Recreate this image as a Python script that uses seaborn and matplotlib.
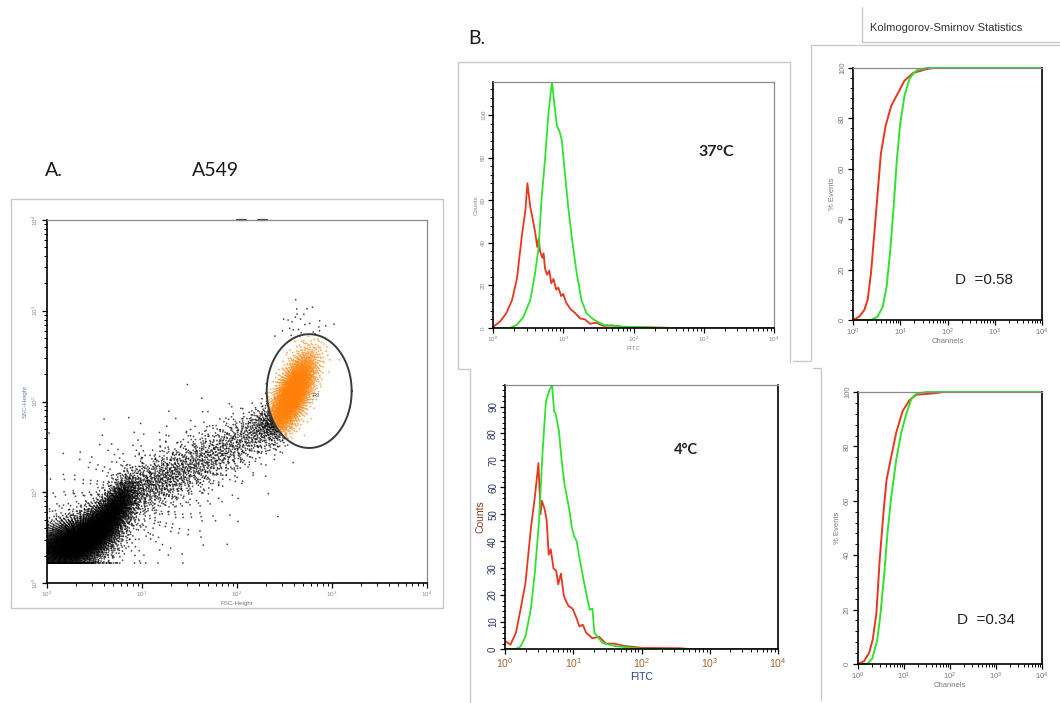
import numpy as np
import pandas as pd
import matplotlib
matplotlib.use("Agg")
import matplotlib.pyplot as plt
from matplotlib.lines import Line2D
from matplotlib.ticker import LogLocator, MultipleLocator, LogFormatterMathtext, NullFormatter
import seaborn as sns

# ---------------- data ----------------
# Panel A: FSC/SSC event populations, log10 units
pop_fsc    = [0.25, 0.55, 0.75, 1.10, 1.55, 2.00, 2.30, 0.90, 2.62, 2.59]
pop_ssc    = [0.42, 0.62, 0.88, 1.08, 1.30, 1.55, 1.75, 0.90, 2.85, 2.09]
pop_sd_fsc = [0.22, 0.17, 0.11, 0.24, 0.27, 0.22, 0.13, 0.60, 0.10, 0.12]
pop_sd_ssc = [0.15, 0.17, 0.16, 0.18, 0.18, 0.17, 0.12, 0.42, 0.12, 0.22]
pop_rho    = [0.35, 0.60, 0.60, 0.55, 0.55, 0.45, 0.40, 0.50, 0.30, 0.65]
pop_events = [4000, 2300, 900, 550, 500, 380, 280, 600, 25, 3000]
fsc_floor, ssc_floor = 0.0, 0.22

gate_center = (2.76, 2.115)   # log10 FSC, log10 SSC
gate_radii = (0.447, 0.627)
gate_name = "R3"

# Panel B: FITC histograms (log10 channel, counts)
h37_red_log = [0, .10, .19, .27, .34, .41, .46, .49, .53, .56, .60, .63, .65, .67, .70, .72, .74, .77, .80,
               .83, .86, .90, .93, .97, 1.0, 1.04, 1.10, 1.17, 1.24, 1.31, 1.38, 1.47, 1.57, 1.7, 1.86, 2.2, 2.6, 4.0]
h37_red_cnt = [0.5, 3, 7, 13, 23, 43, 55, 68, 57, 52, 45, 38, 42, 36, 33, 35, 28, 25, 27,
               21, 23, 18, 19, 15, 16, 12, 9, 7, 4.5, 4, 2, 2.5, 1, 1.2, 0.5, 0.3, 0, 0]
h37_grn_log = [0, .24, .34, .43, .53, .60, .65, .69, .74, .79, .84, .87, .91, .95, .98, 1.02, 1.07, 1.12,
               1.19, 1.26, 1.33, 1.43, 1.57, 1.86, 2.2, 2.5, 4.0]
h37_grn_cnt = [0, 0, 1.5, 5, 13, 26, 38, 60, 79, 101, 116, 106, 95, 92, 88, 74, 57, 43,
               26, 13, 7, 4, 1.5, 0.6, 0.3, 0, 0]

h4_red_log = [0, .08, .16, .23, .30, .38, .44, .49, .52, .54, .58, .61, .64, .67, .71, .75, .78, .82, .86, .89,
              .93, .99, 1.04, 1.09, 1.14, 1.19, 1.28, 1.38, 1.48, 1.6, 1.73, 2.02, 2.56, 2.7, 4.0]
h4_red_cnt = [3, 1.6, 6, 15, 24.5, 45, 57, 69, 50, 55, 52, 48, 35, 37, 30, 29, 24, 28, 20, 18,
              16, 15, 12, 8.4, 9, 6, 4, 4.5, 2, 2, 1.2, 0.4, 0.3, 0, 0]
h4_grn_log = [0, .16, .23, .30, .38, .44, .50, .55, .60, .65, .69, .72, .74, .79, .83, .87, .94, .98, 1.01,
              1.05, 1.09, 1.16, 1.24, 1.28, 1.31, 1.43, 1.63, 1.92, 2.1, 4.0]
h4_grn_cnt = [0, 0, 1, 4.7, 15, 29, 48, 73, 92, 96, 98, 88, 87.5, 81, 70, 61.5, 52, 45, 42,
              40, 34, 24.5, 14.6, 15, 6, 2.2, 1, 0.3, 0, 0]

# Kolmogorov-Smirnov cumulative curves (log10 channel, % events)
ks37_red_log = [0, .13, .24, .31, .38, .45, .52, .59, .69, .81, .95, 1.09, 1.27, 1.56, 1.7, 4.0]
ks37_red_pct = [0, 1.3, 4, 8, 18.5, 34, 50, 66, 77, 85, 90, 95, 98, 99.6, 100, 100]
ks37_grn_log = [0, .38, .52, .63, .71, .79, .86, .93, 1.0, 1.09, 1.2, 1.34, 1.56, 4.0]
ks37_grn_pct = [0, 0, 1.3, 5.3, 13, 28, 45, 64, 78, 89, 96, 99, 100, 100]
ks4_red_log = [0, .13, .24, .32, .40, .47, .55, .62, .72, .83, .97, 1.12, 1.27, 1.64, 1.86, 4.0]
ks4_red_pct = [0, 1, 4, 9, 18.6, 38, 55, 67.6, 76, 85, 93, 97, 99, 99.5, 100, 100]
ks4_grn_log = [0, .20, .31, .42, .49, .57, .64, .72, .83, .94, 1.05, 1.16, 1.27, 1.49, 4.0]
ks4_grn_pct = [0, 0, 2, 9, 18.6, 33, 48, 61, 75, 85, 92, 97.5, 99.4, 100, 100]
ks_d = ["0.58", "0.34"]

# ---------------- style ----------------
sns.set_style("white")
plt.rcParams["font.family"] = ["Liberation Sans", "DejaVu Sans"]
plt.rcParams["mathtext.fontset"] = "custom"
plt.rcParams["mathtext.rm"] = "Liberation Sans"
plt.rcParams["mathtext.default"] = "regular"

RED = "#e8371f"
GREEN = "#30e230"
FRAME = "#c9c9c9"

W, H = 1060, 703
fig = plt.figure(figsize=(W / 100, H / 100), dpi=100)
fig.patch.set_facecolor("white")


def axes_px(x0, y0, x1, y1):
    return fig.add_axes([x0 / W, 1 - y1 / H, (x1 - x0) / W, (y1 - y0) / H])


def frame_line(x0, y0, x1, y1, color=FRAME, lw=1.0):
    fig.add_artist(Line2D([x0 / W, x1 / W], [1 - y0 / H, 1 - y1 / H],
                          transform=fig.transFigure, color=color, lw=lw))


def style_axes(ax, light_top=True, light_right=True):
    for side in ["left", "bottom"]:
        ax.spines[side].set_color("black")
        ax.spines[side].set_linewidth(1.2)
    ax.spines["top"].set_color("#8a8a8a" if light_top else "black")
    ax.spines["top"].set_linewidth(0.9)
    ax.spines["right"].set_color("#8a8a8a" if light_right else "black")
    ax.spines["right"].set_linewidth(0.9 if light_right else 1.2)
    ax.tick_params(which="both", direction="out", bottom=True, left=True, color="black")
    ax.tick_params(which="major", length=3.5, width=0.9)
    ax.tick_params(which="minor", length=2, width=0.7)
    ax.set_facecolor("white")


def log_x(ax, lo=1, hi=1e4):
    ax.set_xscale("log")
    ax.set_xlim(lo, hi)
    ax.xaxis.set_major_locator(LogLocator(base=10, numticks=10))
    ax.xaxis.set_minor_locator(LogLocator(base=10, subs=np.arange(2, 10), numticks=20))
    ax.xaxis.set_major_formatter(LogFormatterMathtext())
    ax.xaxis.set_minor_formatter(NullFormatter())


# ---------------- Panel A: dot plot ----------------
def lattice_normal(n, offset):
    g = 1.32471795724474602596
    k = np.arange(1, n + 1) + offset
    u1 = (0.5 + k / g) % 1.0
    u2 = (0.5 + k / g ** 2) % 1.0
    u1 = np.clip(u1, 1e-4, 1 - 1e-4)
    r = np.sqrt(-2.0 * np.log(u1))
    return r * np.cos(2 * np.pi * u2), r * np.sin(2 * np.pi * u2)


fsc_parts, ssc_parts = [], []
offset = 0
for cx, cy, sx, sy, rho, n in zip(pop_fsc, pop_ssc, pop_sd_fsc, pop_sd_ssc, pop_rho, pop_events):
    z1, z2 = lattice_normal(n, offset)
    offset += n + 977
    fsc_parts.append(cx + sx * z1)
    ssc_parts.append(cy + sy * (rho * z1 + np.sqrt(1 - rho ** 2) * z2))
fsc = np.clip(np.concatenate(fsc_parts), fsc_floor, 4)
ssc = np.clip(np.concatenate(ssc_parts), ssc_floor, 4)
inside = ((fsc - gate_center[0]) / gate_radii[0]) ** 2 + ((ssc - gate_center[1]) / gate_radii[1]) ** 2 <= 1
events = pd.DataFrame({"FSC-Height": 10 ** fsc, "SSC-Height": 10 ** ssc,
                       "gate": np.where(inside, gate_name, "ungated")})
events = events.sort_values("gate", ascending=False)

axA = axes_px(47, 220, 427, 583)
style_axes(axA)
sns.scatterplot(data=events, x="FSC-Height", y="SSC-Height", hue="gate",
                palette={"ungated": "black", gate_name: "#ff8008"},
                s=1.6, linewidth=0, legend=False, ax=axA, alpha=0.7)
log_x(axA)
axA.set_yscale("log")
axA.set_ylim(1, 1e4)
axA.yaxis.set_major_locator(LogLocator(base=10, numticks=10))
axA.yaxis.set_minor_locator(LogLocator(base=10, subs=np.arange(2, 10), numticks=20))
axA.yaxis.set_major_formatter(LogFormatterMathtext())
axA.yaxis.set_minor_formatter(NullFormatter())
axA.tick_params(axis="both", labelsize=4.5, labelcolor="#888888", pad=1.5)
for lab in axA.get_yticklabels():
    lab.set_rotation(90)
    lab.set_va("center")
axA.set_xlabel("FSC-Height", fontsize=4.5, color="#777777", labelpad=1)
axA.set_ylabel("SSC-Height", fontsize=4.5, color="#6a7ea0", labelpad=2)

t = np.linspace(0, 2 * np.pi, 240)
axA.plot(10 ** (gate_center[0] + gate_radii[0] * np.cos(t)),
         10 ** (gate_center[1] + gate_radii[1] * np.sin(t)), color="#3a3a3a", lw=1.4)
axA.text(10 ** (gate_center[0] + 0.04), 10 ** (gate_center[1] - 0.05), gate_name,
         fontsize=4, color="#334466", ha="left", va="center")
# marker stubs on the top edge
for x0, x1 in [(2.0, 2.1), (2.22, 2.32)]:
    axA.plot([10 ** x0, 10 ** x1], [1e4, 1e4], color="#444444", lw=1.6, clip_on=False)

# ---------------- Panel B histograms ----------------
def hist_panel(ax, red_log, red_cnt, grn_log, grn_cnt):
    sns.lineplot(x=10 ** np.array(red_log), y=red_cnt, ax=ax, color=RED, lw=1.3,
                 estimator=None, sort=False)
    sns.lineplot(x=10 ** np.array(grn_log), y=grn_cnt, ax=ax, color=GREEN, lw=1.3,
                 estimator=None, sort=False)
    log_x(ax)


ax37 = axes_px(493, 82, 774, 328)
style_axes(ax37)
hist_panel(ax37, h37_red_log, h37_red_cnt, h37_grn_log, h37_grn_cnt)
ax37.set_ylim(0, 115.5)
ax37.yaxis.set_major_locator(MultipleLocator(20))
ax37.yaxis.set_minor_locator(MultipleLocator(4))
ax37.tick_params(axis="both", labelsize=4.5, labelcolor="#888888", pad=1.5)
for lab in ax37.get_yticklabels():
    lab.set_rotation(90)
    lab.set_va("center")
ax37.set_xlabel("FITC", fontsize=4.5, color="#888888", labelpad=1)
ax37.set_ylabel("Counts", fontsize=4.5, color="#888888", labelpad=2)
ax37.text(0.73, 0.70, "37°C", transform=ax37.transAxes, fontsize=11.5,
          fontweight="bold", family=["Lato", "DejaVu Sans"], color="#222222")

ax4 = axes_px(505, 385, 778, 649)
style_axes(ax4, light_right=False)
hist_panel(ax4, h4_red_log, h4_red_cnt, h4_grn_log, h4_grn_cnt)
ax4.set_ylim(0, 98)
ax4.yaxis.set_major_locator(MultipleLocator(10))
ax4.yaxis.set_minor_locator(MultipleLocator(2))
ax4.tick_params(axis="y", labelsize=7, labelcolor="#2b3a66", pad=1.5)
ax4.tick_params(axis="x", labelsize=7.5, labelcolor="#a5642e", pad=2)
for lab in ax4.get_yticklabels():
    lab.set_rotation(90)
    lab.set_va("center")
ax4.set_xlabel("FITC", fontsize=7.5, color="#2b3a80", labelpad=1)
ax4.set_ylabel("Counts", fontsize=7.5, color="#8a3c1e", labelpad=2)
ax4.text(0.62, 0.74, "4°C", transform=ax4.transAxes, fontsize=10.5,
         fontweight="bold", family=["Lato", "DejaVu Sans"], color="#222222")

# ---------------- K-S cumulative panels ----------------
def ks_panel(ax, red_log, red_pct, grn_log, grn_pct, d_val):
    sns.lineplot(x=10 ** np.array(red_log), y=red_pct, ax=ax, color=RED, lw=1.4,
                 estimator=None, sort=False, clip_on=False)
    sns.lineplot(x=10 ** np.array(grn_log), y=grn_pct, ax=ax, color=GREEN, lw=1.4,
                 estimator=None, sort=False, clip_on=False)
    log_x(ax)
    ax.set_ylim(0, 100)
    ax.yaxis.set_major_locator(MultipleLocator(20))
    ax.yaxis.set_minor_locator(MultipleLocator(4))
    ax.tick_params(axis="both", labelsize=5.5, labelcolor="#7a7a7a", pad=1.5)
    for lab in ax.get_yticklabels():
        lab.set_rotation(90)
        lab.set_va("center")
    ax.set_xlabel("Channels", fontsize=5.5, color="#7a7a7a", labelpad=0)
    ax.set_ylabel("% Events", fontsize=5.5, color="#7a7a7a", labelpad=2)
    ax.text(0.54, 0.16, "D  =" + d_val, transform=ax.transAxes, fontsize=11,
            color="#222222", ha="left", va="center")


axK1 = axes_px(853, 68, 1042, 320)
style_axes(axK1, light_top=True, light_right=False)
ks_panel(axK1, ks37_red_log, ks37_red_pct, ks37_grn_log, ks37_grn_pct, ks_d[0])

axK2 = axes_px(858, 392, 1042, 664)
style_axes(axK2, light_top=True, light_right=False)
ks_panel(axK2, ks4_red_log, ks4_red_pct, ks4_grn_log, ks4_grn_pct, ks_d[1])

# ---------------- frames and headings ----------------
for (x0, y0, x1, y1) in [(11, 199, 443, 199), (11, 608, 443, 608), (11, 199, 11, 608), (443, 199, 443, 608)]:
    frame_line(x0, y0, x1, y1)
frame_line(458, 62, 790, 62)
frame_line(458, 62, 458, 369)
frame_line(790, 62, 790, 362)
frame_line(458, 369, 470, 369)
frame_line(470, 369, 470, 703)
frame_line(811, 45, 1060, 45)
frame_line(811, 45, 811, 360)
frame_line(793, 361, 811, 361)
frame_line(813, 368, 821, 368)
frame_line(821, 368, 821, 700)
frame_line(862, 7, 862, 42)
frame_line(862, 42, 1060, 42)

fig.text(870 / W, 1 - 28 / H, "Kolmogorov-Smirnov Statistics", fontsize=8, color="#333333",
         ha="left", va="center")
heading = dict(fontsize=14, family=["Lato", "DejaVu Sans"], color="#1a1a1a", va="center", ha="left")
fig.text(45 / W, 1 - 170 / H, "A.", **heading)
fig.text(192 / W, 1 - 170 / H, "A549", **heading)
fig.text(468 / W, 1 - 38 / H, "B.", **heading)

fig.savefig("out.png", dpi=100, facecolor="white")
